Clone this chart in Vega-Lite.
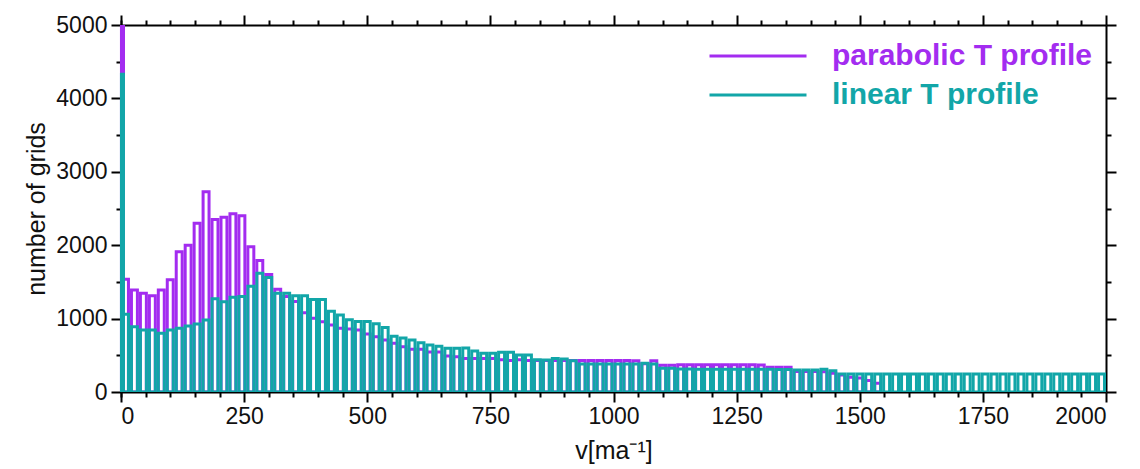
{
  "$schema": "https://vega.github.io/schema/vega-lite/v6.json",
  "width": 985,
  "height": 367,
  "autosize": "none",
  "padding": {"left": 121, "top": 25, "right": 34, "bottom": 77},
  "background": "white",
  "config": {
    "view": {"stroke": null},
    "font": "Liberation Sans",
    "axis": {"grid": false, "domainColor": "#000", "domainWidth": 2, "tickColor": "#000", "tickWidth": 2, "labelColor": "#111", "titleColor": "#111", "labelFont": "Liberation Sans", "titleFont": "Liberation Sans", "titleFontWeight": "normal", "labelFontSize": 23, "titleFontSize": 25, "format": "d"}
  },
  "datasets": {
    "parabolic": [
      {"a":0,"b":18.18,"n":1535},{"a":18.18,"b":36.36,"n":1390},{"a":36.36,"b":54.55,"n":1345},{"a":54.55,"b":72.73,"n":1310},{"a":72.73,"b":90.91,"n":1390},{"a":90.91,"b":109.09,"n":1530},{"a":109.09,"b":127.27,"n":1912},{"a":127.27,"b":145.45,"n":2000},{"a":145.45,"b":163.64,"n":2300},{"a":163.64,"b":181.82,"n":2729},{"a":181.82,"b":200,"n":2350},
      {"a":200,"b":218.18,"n":2380},{"a":218.18,"b":236.36,"n":2430},{"a":236.36,"b":254.55,"n":2400},{"a":254.55,"b":272.73,"n":1980},{"a":272.73,"b":290.91,"n":1790},{"a":290.91,"b":309.09,"n":1600},{"a":309.09,"b":327.27,"n":1400},{"a":327.27,"b":345.45,"n":1300},{"a":345.45,"b":363.64,"n":1232},{"a":363.64,"b":381.82,"n":1080},{"a":381.82,"b":400,"n":1004},
      {"a":400,"b":418.18,"n":958},{"a":418.18,"b":436.36,"n":913},{"a":436.36,"b":454.55,"n":867},{"a":454.55,"b":472.73,"n":860},{"a":472.73,"b":490.91,"n":845},{"a":490.91,"b":509.09,"n":790},{"a":509.09,"b":527.27,"n":754},{"a":527.27,"b":545.45,"n":708},{"a":545.45,"b":563.64,"n":663},{"a":563.64,"b":581.82,"n":618},{"a":581.82,"b":600,"n":581},
      {"a":600,"b":618.18,"n":581},{"a":618.18,"b":636.36,"n":545},{"a":636.36,"b":654.55,"n":545},{"a":654.55,"b":672.73,"n":490},{"a":672.73,"b":690.91,"n":480},{"a":690.91,"b":709.09,"n":455},{"a":709.09,"b":727.27,"n":455},{"a":727.27,"b":745.45,"n":455},{"a":745.45,"b":763.64,"n":455},{"a":763.64,"b":781.82,"n":440},{"a":781.82,"b":800,"n":430},
      {"a":800,"b":818.18,"n":440},{"a":818.18,"b":836.36,"n":430},{"a":836.36,"b":854.55,"n":430},{"a":854.55,"b":872.73,"n":430},{"a":872.73,"b":890.91,"n":430},{"a":890.91,"b":909.09,"n":430},{"a":909.09,"b":927.27,"n":430},{"a":927.27,"b":945.45,"n":430},{"a":945.45,"b":963.64,"n":430},{"a":963.64,"b":981.82,"n":430},{"a":981.82,"b":1000,"n":430},
      {"a":1000,"b":1018.18,"n":430},{"a":1018.18,"b":1036.36,"n":430},{"a":1036.36,"b":1054.55,"n":425},{"a":1054.55,"b":1072.73,"n":385},{"a":1072.73,"b":1090.91,"n":425},{"a":1090.91,"b":1109.09,"n":365},{"a":1109.09,"b":1127.27,"n":365},{"a":1127.27,"b":1145.45,"n":370},{"a":1145.45,"b":1163.64,"n":370},{"a":1163.64,"b":1181.82,"n":370},{"a":1181.82,"b":1200,"n":370},
      {"a":1200,"b":1218.18,"n":370},{"a":1218.18,"b":1236.36,"n":370},{"a":1236.36,"b":1254.55,"n":370},{"a":1254.55,"b":1272.73,"n":370},{"a":1272.73,"b":1290.91,"n":370},{"a":1290.91,"b":1309.09,"n":368},{"a":1309.09,"b":1327.27,"n":336},{"a":1327.27,"b":1345.45,"n":336},{"a":1345.45,"b":1363.64,"n":336},{"a":1363.64,"b":1381.82,"n":280},{"a":1381.82,"b":1400,"n":280},
      {"a":1400,"b":1418.18,"n":280},{"a":1418.18,"b":1436.36,"n":275},{"a":1436.36,"b":1454.55,"n":255},{"a":1454.55,"b":1472.73,"n":230},{"a":1472.73,"b":1490.91,"n":200},{"a":1490.91,"b":1509.09,"n":190},{"a":1509.09,"b":1527.27,"n":155},{"a":1527.27,"b":1545.45,"n":118}
    ],
    "linear": [
      {"a":0,"b":18.18,"n":1058},{"a":18.18,"b":36.36,"n":890},{"a":36.36,"b":54.55,"n":845},{"a":54.55,"b":72.73,"n":845},{"a":72.73,"b":90.91,"n":800},{"a":90.91,"b":109.09,"n":845},{"a":109.09,"b":127.27,"n":870},{"a":127.27,"b":145.45,"n":900},{"a":145.45,"b":163.64,"n":927},{"a":163.64,"b":181.82,"n":980},{"a":181.82,"b":200,"n":1270},
      {"a":200,"b":218.18,"n":1230},{"a":218.18,"b":236.36,"n":1290},{"a":236.36,"b":254.55,"n":1300},{"a":254.55,"b":272.73,"n":1440},{"a":272.73,"b":290.91,"n":1617},{"a":290.91,"b":309.09,"n":1560},{"a":309.09,"b":327.27,"n":1344},{"a":327.27,"b":345.45,"n":1344},{"a":345.45,"b":363.64,"n":1310},{"a":363.64,"b":381.82,"n":1310},{"a":381.82,"b":400,"n":1260},
      {"a":400,"b":418.18,"n":1260},{"a":418.18,"b":436.36,"n":1100},{"a":436.36,"b":454.55,"n":1050},{"a":454.55,"b":472.73,"n":985},{"a":472.73,"b":490.91,"n":960},{"a":490.91,"b":509.09,"n":960},{"a":509.09,"b":527.27,"n":930},{"a":527.27,"b":545.45,"n":880},{"a":545.45,"b":563.64,"n":760},{"a":563.64,"b":581.82,"n":735},{"a":581.82,"b":600,"n":710},
      {"a":600,"b":618.18,"n":670},{"a":618.18,"b":636.36,"n":640},{"a":636.36,"b":654.55,"n":625},{"a":654.55,"b":672.73,"n":595},{"a":672.73,"b":690.91,"n":595},{"a":690.91,"b":709.09,"n":600},{"a":709.09,"b":727.27,"n":560},{"a":727.27,"b":745.45,"n":527},{"a":745.45,"b":763.64,"n":527},{"a":763.64,"b":781.82,"n":540},{"a":781.82,"b":800,"n":540},
      {"a":800,"b":818.18,"n":504},{"a":818.18,"b":836.36,"n":504},{"a":836.36,"b":854.55,"n":440},{"a":854.55,"b":872.73,"n":436},{"a":872.73,"b":890.91,"n":458},{"a":890.91,"b":909.09,"n":450},{"a":909.09,"b":927.27,"n":427},{"a":927.27,"b":945.45,"n":381},{"a":945.45,"b":963.64,"n":381},{"a":963.64,"b":981.82,"n":381},{"a":981.82,"b":1000,"n":381},
      {"a":1000,"b":1018.18,"n":381},{"a":1018.18,"b":1036.36,"n":381},{"a":1036.36,"b":1054.55,"n":381},{"a":1054.55,"b":1072.73,"n":390},{"a":1072.73,"b":1090.91,"n":381},{"a":1090.91,"b":1109.09,"n":322},{"a":1109.09,"b":1127.27,"n":322},{"a":1127.27,"b":1145.45,"n":315},{"a":1145.45,"b":1163.64,"n":315},{"a":1163.64,"b":1181.82,"n":310},{"a":1181.82,"b":1200,"n":310},
      {"a":1200,"b":1218.18,"n":310},{"a":1218.18,"b":1236.36,"n":310},{"a":1236.36,"b":1254.55,"n":310},{"a":1254.55,"b":1272.73,"n":310},{"a":1272.73,"b":1290.91,"n":310},{"a":1290.91,"b":1309.09,"n":310},{"a":1309.09,"b":1327.27,"n":310},{"a":1327.27,"b":1345.45,"n":305},{"a":1345.45,"b":1363.64,"n":305},{"a":1363.64,"b":1381.82,"n":300},{"a":1381.82,"b":1400,"n":300},
      {"a":1400,"b":1418.18,"n":300},{"a":1418.18,"b":1436.36,"n":310},{"a":1436.36,"b":1454.55,"n":290},{"a":1454.55,"b":1472.73,"n":245},{"a":1472.73,"b":1490.91,"n":245},{"a":1490.91,"b":1509.09,"n":245},{"a":1509.09,"b":1527.27,"n":245},{"a":1527.27,"b":1545.45,"n":245},{"a":1545.45,"b":1563.64,"n":245},{"a":1563.64,"b":1581.82,"n":245},{"a":1581.82,"b":1600,"n":245},
      {"a":1600,"b":1618.18,"n":245},{"a":1618.18,"b":1636.36,"n":245},{"a":1636.36,"b":1654.55,"n":245},{"a":1654.55,"b":1672.73,"n":245},{"a":1672.73,"b":1690.91,"n":245},{"a":1690.91,"b":1709.09,"n":245},{"a":1709.09,"b":1727.27,"n":245},{"a":1727.27,"b":1745.45,"n":245},{"a":1745.45,"b":1763.64,"n":245},{"a":1763.64,"b":1781.82,"n":245},{"a":1781.82,"b":1800,"n":245},
      {"a":1800,"b":1818.18,"n":245},{"a":1818.18,"b":1836.36,"n":245},{"a":1836.36,"b":1854.55,"n":245},{"a":1854.55,"b":1872.73,"n":245},{"a":1872.73,"b":1890.91,"n":245},{"a":1890.91,"b":1909.09,"n":245},{"a":1909.09,"b":1927.27,"n":245},{"a":1927.27,"b":1945.45,"n":245},{"a":1945.45,"b":1963.64,"n":245},{"a":1963.64,"b":1981.82,"n":245},{"a":1981.82,"b":2000,"n":245}
    ],
    "spike": [
      {"s":"parabolic T profile","v":3,"n":5000},
      {"s":"linear T profile","v":3,"n":4350}
    ]
  },
  "layer": [
    {
      "data": {"name": "parabolic"},
      "mark": {"type": "rect", "fillOpacity": 0, "fill": "white", "strokeWidth": 3, "xOffset": 1.5, "x2Offset": -1.5, "clip": true},
      "encoding": {
        "x": {"field": "a", "type": "quantitative", "scale": {"domain": [0, 2000], "nice": false, "zero": false},
          "axis": {"orient": "bottom", "values": [0,250,500,750,1000,1250,1500,1750,2000], "tickSize": 10, "labelPadding": 3, "title": "v[ma⁻¹]", "titlePadding": 10}},
        "x2": {"field": "b"},
        "y": {"field": "n", "type": "quantitative", "scale": {"domain": [0, 5000], "nice": false},
          "axis": {"orient": "left", "values": [0,1000,2000,3000,4000,5000], "tickSize": 10, "labelPadding": 4, "title": "number of grids", "titlePadding": 6}},
        "y2": {"datum": 0},
        "stroke": {"datum": "parabolic T profile", "type": "nominal",
          "scale": {"domain": ["parabolic T profile", "linear T profile"], "range": ["#a32cf0", "#12a6a8"]},
          "legend": {"orient": "none", "legendX": 587, "legendY": 16, "title": null, "symbolType": "stroke", "symbolSize": 9409, "symbolStrokeWidth": 3, "labelFontSize": 30, "labelFontWeight": "bold", "labelFont": "Liberation Sans", "labelOffset": 24, "labelLimit": 500, "clipHeight": 30, "rowPadding": 9, "padding": 0,
            "labelColor": {"expr": "datum.value == 'parabolic T profile' ? '#a32cf0' : '#12a6a8'"}}
        }
      }
    },
    {
      "data": {"name": "linear"},
      "mark": {"type": "rect", "fillOpacity": 0, "fill": "white", "strokeWidth": 3, "xOffset": 1.5, "x2Offset": -1.5, "clip": true},
      "encoding": {
        "x": {"field": "a", "type": "quantitative",
          "axis": {"orient": "bottom", "values": [0,50,100,150,200,300,350,400,450,550,600,650,700,800,850,900,950,1050,1100,1150,1200,1300,1350,1400,1450,1550,1600,1650,1700,1800,1850,1900,1950], "tickSize": 5, "labels": false, "title": null, "domain": false}},
        "x2": {"field": "b"},
        "y": {"field": "n", "type": "quantitative",
          "axis": {"orient": "left", "values": [500,1500,2500,3500,4500], "tickSize": 5, "labels": false, "title": null, "domain": false}},
        "y2": {"datum": 0},
        "stroke": {"datum": "linear T profile", "type": "nominal"}
      }
    },
    {
      "data": {"name": "spike"},
      "mark": {"type": "rule", "strokeWidth": 5},
      "encoding": {
        "x": {"field": "v", "type": "quantitative",
          "axis": {"orient": "top", "values": [0,250,500,750,1000,1250,1500,1750,2000], "tickSize": 10, "labels": false, "title": null}},
        "y": {"field": "n", "type": "quantitative",
          "axis": {"orient": "right", "values": [0,1000,2000,3000,4000,5000], "tickSize": 10, "labels": false, "title": null}},
        "y2": {"datum": 0},
        "stroke": {"field": "s", "type": "nominal", "legend": null}
      }
    },
    {
      "data": {"name": "spike"},
      "mark": {"type": "rule", "strokeWidth": 5},
      "encoding": {
        "x": {"field": "v", "type": "quantitative",
          "axis": {"orient": "top", "values": [0,50,100,150,200,300,350,400,450,550,600,650,700,800,850,900,950,1050,1100,1150,1200,1300,1350,1400,1450,1550,1600,1650,1700,1800,1850,1900,1950], "tickSize": 5, "labels": false, "title": null, "domain": false}},
        "y": {"field": "n", "type": "quantitative",
          "axis": {"orient": "right", "values": [500,1500,2500,3500,4500], "tickSize": 5, "labels": false, "title": null, "domain": false}},
        "y2": {"datum": 0},
        "stroke": {"field": "s", "type": "nominal", "legend": null}
      }
    }
  ],
  "resolve": {"axis": {"x": "independent", "y": "independent"}}
}
